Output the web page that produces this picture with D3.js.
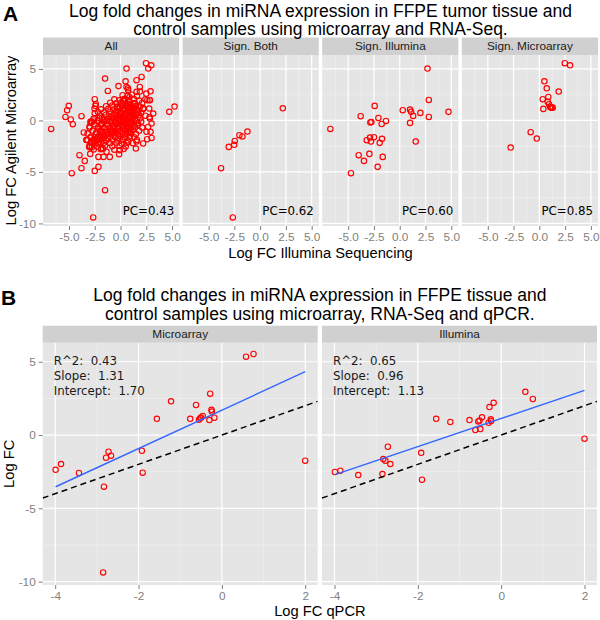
<!DOCTYPE html>
<html><head><meta charset="utf-8">
<script src="https://cdn.jsdelivr.net/npm/d3@7"></script>
<style>body{margin:0;background:#fff}</style>
</head><body>
<svg id="c" width="600" height="620"></svg>
<script>
// ---------------- DATA ----------------
const facetsA = ["All", "Sign. Both", "Sign. Illumina", "Sign. Microarray"];
const pcLabels = ["PC=0.43", "PC=0.62", "PC=0.60", "PC=0.85"];
const xTicksA = [-5, -2.5, 0, 2.5, 5];
const xTickLabelsA = ["-5.0", "-2.5", "0.0", "2.5", "5.0"];
const yTicks = [-10, -5, 0, 5];
const yTickLabels = ["-10", "-5", "0", "5"];

// [Illumina logFC, Microarray logFC]
const bothPts = [[2.20,1.18],[-1.23,-1.08],[-1.72,-1.56],[-2.01,-1.44],[-2.46,-1.99],[-2.52,-2.37],[-3.04,-2.57],[-3.79,-4.64],[-2.65,-9.42]];
const illuPts = [[2.69,5.03],[2.82,1.99],[4.73,0.83],[0.29,0.99],[1.00,1.05],[1.10,0.83],[1.30,0.44],[2.00,0.73],[2.82,0.34],[1.00,-0.24],[1.55,-2.05],[-6.73,-0.83],[-3.79,0.41],[-2.43,1.41],[-2.07,0.24],[-2.85,-0.20],[-2.75,-0.15],[-1.75,-0.34],[-1.33,-0.05],[-2.50,-1.63],[-2.88,-1.66],[-3.20,-1.92],[-2.79,-2.05],[-1.72,-1.79],[-1.94,-2.18],[-3.98,-3.38],[-2.94,-3.25],[-3.47,-3.93],[-1.65,-3.54],[-2.14,-4.51],[-4.73,-5.12]];
const microPts = [[2.47,5.55],[2.98,5.35],[0.49,3.80],[0.72,3.12],[1.88,2.80],[0.33,2.06],[0.87,2.28],[0.81,1.80],[0.94,1.57],[1.05,1.30],[1.20,1.22],[1.12,1.25],[1.30,1.24],[0.39,1.12],[-0.84,-1.14],[-0.25,-1.76],[-2.78,-2.63]];
// remaining (non-significant) miRNAs, shown only in "All"
const otherPts = [
[-5.02,1.41],[-5.18,0.99],[-5.34,0.34],[-4.83,0.09],[-4.63,-0.37],[-2.50,-4.90],[-1.50,-6.77],[-1.50,4.06],[-1.23,2.86],[-2.50,2.06],[-2.40,1.60],[-2.52,1.15],[-2.50,0.70],[-0.20,3.33],[0.58,5.03],[0.58,3.25],[0.74,2.93],[1.55,3.90],[2.04,4.22],[1.87,3.25],[1.55,2.77],[2.91,2.83],[2.50,2.60],[2.85,1.96],[2.60,1.96],[2.40,2.05],[3.17,0.67],[2.84,0.18],[2.78,1.15],[3.01,-0.30],[2.68,-0.63],[2.52,-1.10],[2.91,-1.11],[3.01,-1.70],[2.58,-1.82],[2.19,-2.24],[1.60,-1.90],[0.74,-2.08],[1.49,-2.73],[-0.14,-3.28],[-0.07,-2.89],[-1.04,-3.54],[-1.36,-3.05],[-1.85,-2.72],[-1.91,-2.79],[-2.14,-3.54],[5.24,1.35],[-2.90,-0.15],[-2.60,0.00],[-3.00,-0.60],[-3.56,-1.17],[-3.30,-1.90],[-2.66,-1.90],[-2.96,-2.60],
[0.2,2.45],[0.7,2.38],[1.1,2.5],[1.6,2.35],
[-0.6,2.05],[-0.1,1.95],[0.4,2.1],[0.8,1.98],[1.3,2.08],[1.8,1.92],
[-1.0,1.72],[-0.4,1.66],[0.1,1.75],[0.5,1.62],[0.9,1.78],[1.4,1.68],[2.1,1.7],
[-1.4,1.38],[-0.8,1.45],[-0.3,1.35],[0.2,1.42],[0.6,1.36],[1.0,1.47],[1.5,1.4],[1.9,1.33],
[-1.9,1.08],[-1.2,1.12],[-0.7,1.05],[-0.2,1.15],[0.3,1.1],[0.7,1.02],[1.1,1.14],[1.6,1.06],[2.2,1.1],
[-2.2,0.82],[-1.6,0.76],[-1.0,0.85],[-0.5,0.78],[0.0,0.83],[0.4,0.75],[0.8,0.86],[1.2,0.8],[1.7,0.77],
[-2.0,0.48],[-1.4,0.55],[-0.9,0.46],[-0.4,0.52],[0.1,0.47],[0.5,0.54],[0.9,0.45],[1.3,0.53],[1.8,0.5],[2.4,0.46],
[-2.6,0.18],[-1.8,0.24],[-1.2,0.15],[-0.7,0.22],[-0.2,0.17],[0.2,0.25],[0.6,0.16],[1.0,0.21],[1.4,0.14],[1.9,0.2],
[-2.9,-0.12],[-2.2,-0.06],[-1.6,-0.14],[-1.0,-0.08],[-0.5,-0.13],[-0.1,-0.05],[0.3,-0.11],[0.7,-0.07],[1.1,-0.15],[1.5,-0.09],[2.0,-0.12],
[-2.5,-0.38],[-1.9,-0.44],[-1.3,-0.36],[-0.8,-0.42],[-0.3,-0.35],[0.1,-0.45],[0.5,-0.39],[0.9,-0.43],[1.3,-0.37],[1.7,-0.41],
[-3.0,-0.72],[-2.2,-0.66],[-1.6,-0.74],[-1.1,-0.68],[-0.6,-0.75],[-0.2,-0.65],[0.2,-0.71],[0.6,-0.67],[1.0,-0.73],[1.4,-0.69],[2.1,-0.7],
[-2.7,-0.98],[-2.0,-1.04],[-1.4,-0.96],[-0.9,-1.02],[-0.4,-0.97],[0.0,-1.05],[0.4,-0.99],[0.8,-1.03],[1.2,-0.95],[1.8,-1.01],
[-3.2,-1.28],[-2.4,-1.34],[-1.8,-1.26],[-1.2,-1.32],[-0.7,-1.27],[-0.2,-1.35],[0.2,-1.29],[0.6,-1.33],[1.0,-1.25],[1.5,-1.31],
[-2.9,-1.62],[-2.2,-1.56],[-1.6,-1.64],[-1.0,-1.58],[-0.5,-1.63],[0.0,-1.57],[0.4,-1.65],[0.9,-1.59],[1.3,-1.61],
[-3.3,-1.88],[-2.6,-1.94],[-2.0,-1.86],[-1.4,-1.92],[-0.8,-1.87],[-0.3,-1.95],[0.2,-1.89],[0.7,-1.93],
[-2.8,-2.18],[-2.2,-2.24],[-1.6,-2.16],[-1.0,-2.22],[-0.4,-2.17],[0.1,-2.25],[0.6,-2.19],[1.2,-2.21],
[-3.0,-2.48],[-2.3,-2.54],[-1.5,-2.46],[-0.8,-2.52],[-0.1,-2.47],[0.5,-2.53],
[-2.6,-2.82],[-1.7,-2.76],[-0.6,-2.84],[0.3,-2.78],
[0.3,0.05],[0.6,-0.25],[0.0,0.35],[0.8,0.3],[-0.2,-0.3],[0.5,0.65],[1.0,-0.45],[0.2,-0.6],[-0.4,0.25],[0.9,0.95],[0.4,-0.9],[1.2,0.25],[0.65,1.25],[-0.05,1.25],[1.25,-0.6],[-0.6,-0.55],[0.15,0.7],[0.75,-1.15],
[-1.1,0.3],[-0.8,-0.1],[-0.6,0.6],[-0.3,0.9],[0.05,0.6],[0.35,0.4],[0.55,0.05],[0.85,-0.15],[1.15,0.5],[1.35,0.95],[1.05,1.25],[0.45,1.45],[-0.15,0.05],[-0.45,-0.2],[-0.75,-0.6],[-1.05,-0.9],[-1.35,-1.15],[-1.65,-1.4],[-1.95,-1.7],[-2.25,-1.95],[-1.25,-1.7],[-0.95,-1.3],[-0.55,-1.15],[-0.25,-0.85],[0.05,-0.3],[0.35,-0.55],[0.65,-0.85],[0.95,-1.2],[1.55,0.65],[1.65,-0.25],[-1.55,0.05],[-1.85,-0.3],[-2.05,-0.8],[-2.35,-1.15],[-1.75,-1.1],[-0.35,1.3],[0.25,1.9],[0.75,1.55],[1.25,1.65],[-0.85,0.2]
];

const facetsB = ["Microarray", "Illumina"];
const xTicksB = [-4, -2, 0, 2];
const xTickLabelsB = ["-4", "-2", "0", "2"];
const qpcr    = [0.58,0.76,-1.22,-0.62,-0.28,-1.56,-0.76,-0.55,-0.50,-0.46,-0.52,-0.25,-0.24,-0.30,-0.18,-1.92,-2.72,-2.66,-2.78,-3.86,-3.99,-3.43,-1.90,-2.83,-2.85,2.00];
const microFC = [5.34,5.53,2.30,2.05,2.82,1.11,1.11,1.05,1.20,1.30,1.15,1.72,1.60,1.02,1.18,-1.07,-1.14,-1.41,-1.55,-1.98,-2.37,-2.59,-2.57,-3.52,-9.37,-1.75];
const illuFC  = [2.95,2.46,0.89,0.34,1.91,1.11,1.02,0.93,0.41,1.21,1.00,1.07,0.95,0.84,2.20,-1.21,-0.80,-1.98,-1.75,-2.43,-2.52,-2.73,-3.05,-1.64,-2.66,-0.25];
const fitR2 = ["0.43", "0.65"];
const fitSlope = [1.31, 0.96];
const fitIntercept = [1.70, 1.13];

// ---------------- DRAWING ----------------
const SANS = "'Liberation Sans', Arial, Helvetica, sans-serif";
const DEJA = "'DejaVu Sans', sans-serif";
const svg = d3.select("#c");

function background(g, x, y, xMaj, xMin, yMaj, yMin) {
  const [x0, x1] = x.range(), [yb, yt] = y.range();
  g.append("rect").attr("x", x0).attr("y", yt).attr("width", x1 - x0).attr("height", yb - yt).attr("fill", "#e5e5e5");
  g.selectAll(null).data(xMin).join("line").attr("x1", d => x(d)).attr("x2", d => x(d)).attr("y1", yt).attr("y2", yb).attr("stroke", "#f2f2f2").attr("stroke-width", 0.6);
  g.selectAll(null).data(yMin).join("line").attr("y1", d => y(d)).attr("y2", d => y(d)).attr("x1", x0).attr("x2", x1).attr("stroke", "#f2f2f2").attr("stroke-width", 0.6);
  g.selectAll(null).data(xMaj).join("line").attr("x1", d => x(d)).attr("x2", d => x(d)).attr("y1", yt).attr("y2", yb).attr("stroke", "#fff").attr("stroke-width", 1.2);
  g.selectAll(null).data(yMaj).join("line").attr("y1", d => y(d)).attr("y2", d => y(d)).attr("x1", x0).attr("x2", x1).attr("stroke", "#fff").attr("stroke-width", 1.2);
}
function strip(g, x0, x1, top, h, label) {
  g.append("rect").attr("x", x0).attr("y", top).attr("width", x1 - x0).attr("height", h).attr("fill", "#d0d0d0");
  g.append("text").attr("x", (x0 + x1) / 2).attr("y", top + h / 2 + 4.2).attr("text-anchor", "middle")
    .attr("font-family", SANS).attr("font-size", 11.8).attr("fill", "#1a1a1a").text(label);
}
function styleAxis(a) {
  a.select(".domain").remove();
  a.selectAll(".tick line").attr("stroke", "#7f7f7f");
  a.selectAll(".tick text").attr("fill", "#7f7f7f").attr("font-family", SANS).attr("font-size", 11.8);
}

// ===== Panel A =====
const A = { top: 55, bottom: 226, left: 43, w: 136.2, gap: 3.4, stripH: 17.5 };
const yA = d3.scaleLinear().domain([-10.25, 6.35]).range([A.bottom, A.top]);
const panelsA = [otherPts.concat(bothPts, illuPts, microPts), bothPts, illuPts, microPts];

facetsA.forEach((name, i) => {
  const x0 = A.left + i * (A.w + A.gap);
  const x = d3.scaleLinear().domain([-7.52, 5.69]).range([x0, x0 + A.w]);
  const g = svg.append("g");
  background(g, x, yA, xTicksA, [-6.25, -3.75, -1.25, 1.25, 3.75], yTicks, [-7.5, -2.5, 2.5]);
  strip(g, x0, x0 + A.w, A.top - A.stripH, A.stripH, name);
  g.selectAll(null).data(panelsA[i]).join("circle")
    .attr("cx", d => x(d[0])).attr("cy", d => yA(d[1])).attr("r", 2.7)
    .attr("fill", "none").attr("stroke", "#ff0000").attr("stroke-width", 1.15);
  g.append("text").attr("x", x0 + A.w - 5).attr("y", A.bottom - 11).attr("text-anchor", "end")
    .attr("font-family", DEJA).attr("font-size", 11.8).attr("fill", "#000").text(pcLabels[i]);
  const ax = g.append("g").attr("transform", `translate(0,${A.bottom})`)
    .call(d3.axisBottom(x).tickValues(xTicksA).tickFormat((d, k) => xTickLabelsA[k]).tickSize(4).tickPadding(3));
  styleAxis(ax);
  if (i === 0) {
    const ay = g.append("g").attr("transform", `translate(${x0},0)`)
      .call(d3.axisLeft(yA).tickValues(yTicks).tickFormat((d, k) => yTickLabels[k]).tickSize(4).tickPadding(3));
    styleAxis(ay);
  }
});
svg.append("text").attr("x", 3).attr("y", 21).attr("font-family", SANS).attr("font-weight", "bold").attr("font-size", 21).text("A");
svg.append("text").attr("x", 320.5).attr("y", 17).attr("text-anchor", "middle").attr("font-family", SANS).attr("font-size", 17.5)
  .text("Log fold changes in miRNA expression in FFPE tumor tissue and");
svg.append("text").attr("x", 320.5).attr("y", 35).attr("text-anchor", "middle").attr("font-family", SANS).attr("font-size", 17.5)
  .text("control samples using microarray and RNA-Seq.");
svg.append("text").attr("x", 320.5).attr("y", 258).attr("text-anchor", "middle").attr("font-family", SANS).attr("font-size", 14.7)
  .text("Log FC Illumina Sequencing");
svg.append("text").attr("transform", `translate(16,${(A.top + A.bottom) / 2}) rotate(-90)`).attr("text-anchor", "middle")
  .attr("font-family", SANS).attr("font-size", 14.7).text("Log FC Agilent Microarray");

// ===== Panel B =====
const B = { top: 342.7, bottom: 585, left: 42.7, w: 275, gap: 4.3, stripH: 17 };
const yB = d3.scaleLinear().domain([-10.23, 6.30]).range([B.bottom, B.top]);
const seriesB = [microFC, illuFC];

facetsB.forEach((name, i) => {
  const x0 = B.left + i * (B.w + B.gap);
  const x = d3.scaleLinear().domain([-4.3, 2.3]).range([x0, x0 + B.w]);
  const g = svg.append("g");
  background(g, x, yB, xTicksB, [-3, -1, 1], yTicks, [-7.5, -2.5, 2.5]);
  strip(g, x0, x0 + B.w, B.top - B.stripH, B.stripH, name);
  const clipId = "clipB" + i;
  svg.append("clipPath").attr("id", clipId).append("rect")
    .attr("x", x0).attr("y", B.top).attr("width", B.w).attr("height", B.bottom - B.top);
  const pts = qpcr.map((q, k) => [q, seriesB[i][k]]);
  g.selectAll(null).data(pts).join("circle")
    .attr("cx", d => x(d[0])).attr("cy", d => yB(d[1])).attr("r", 2.7)
    .attr("fill", "none").attr("stroke", "#ff0000").attr("stroke-width", 1.1);
  // identity line
  const dom = x.domain();
  g.append("line").attr("clip-path", `url(#${clipId})`)
    .attr("x1", x(dom[0])).attr("y1", yB(dom[0])).attr("x2", x(dom[1])).attr("y2", yB(dom[1]))
    .attr("stroke", "#000").attr("stroke-width", 1.5).attr("stroke-dasharray", "6,4");
  // regression line
  const ext = d3.extent(qpcr);
  g.append("line")
    .attr("x1", x(ext[0])).attr("y1", yB(fitIntercept[i] + fitSlope[i] * ext[0]))
    .attr("x2", x(ext[1])).attr("y2", yB(fitIntercept[i] + fitSlope[i] * ext[1]))
    .attr("stroke", "#3366ff").attr("stroke-width", 1.4);
  const lines = ["R^2:  " + fitR2[i], "Slope:  " + fitSlope[i].toFixed(2), "Intercept:  " + fitIntercept[i].toFixed(2)];
  g.selectAll(null).data(lines).join("text")
    .attr("x", x(-4) - 1.5).attr("y", (d, k) => yB(5) + 3 + k * 15)
    .style("white-space", "pre").attr("font-family", DEJA).attr("font-size", 11.8).attr("fill", "#1a1a1a").text(d => d);
  const ax = g.append("g").attr("transform", `translate(0,${B.bottom})`)
    .call(d3.axisBottom(x).tickValues(xTicksB).tickFormat((d, k) => xTickLabelsB[k]).tickSize(4).tickPadding(3));
  styleAxis(ax);
  if (i === 0) {
    const ay = g.append("g").attr("transform", `translate(${x0},0)`)
      .call(d3.axisLeft(yB).tickValues(yTicks).tickFormat((d, k) => yTickLabels[k]).tickSize(4).tickPadding(3));
    styleAxis(ay);
  }
});
svg.append("text").attr("x", 1).attr("y", 305).attr("font-family", SANS).attr("font-weight", "bold").attr("font-size", 21).text("B");
svg.append("text").attr("x", 319.9).attr("y", 300.8).attr("text-anchor", "middle").attr("font-family", SANS).attr("font-size", 17.5)
  .text("Log fold changes in miRNA expression in FFPE tissue and");
svg.append("text").attr("x", 319.9).attr("y", 320).attr("text-anchor", "middle").attr("font-family", SANS).attr("font-size", 17.5)
  .text("control samples using microarray, RNA-Seq and qPCR.");
svg.append("text").attr("x", 319.9).attr("y", 616).attr("text-anchor", "middle").attr("font-family", SANS).attr("font-size", 14.7)
  .text("Log FC qPCR");
svg.append("text").attr("transform", `translate(14,${(B.top + B.bottom) / 2}) rotate(-90)`).attr("text-anchor", "middle")
  .attr("font-family", SANS).attr("font-size", 14.7).text("Log FC");
</script>
</body></html>
